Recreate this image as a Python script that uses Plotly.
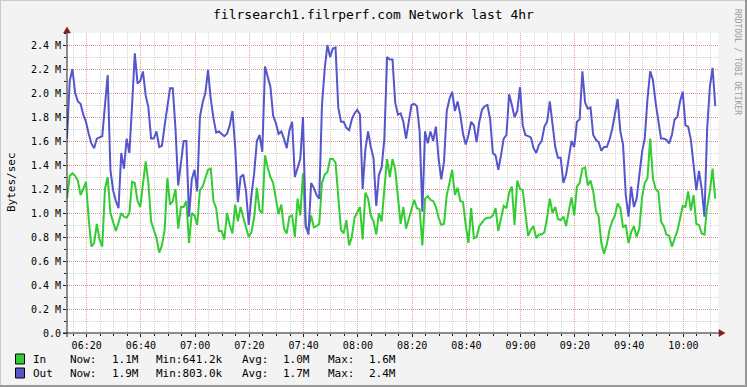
import pandas as pd
import plotly.graph_objects as go

# ---------------- data ----------------
title_text = "filrsearch1.filrperf.com Network last 4hr"
start_time = "2013-05-14 06:12:45"   # one sample per minute, 4 hours
step_seconds = 60

# Out (Bytes/sec, millions)
out_mbps = [
    1.62, 2.10, 2.20, 2.00, 1.93, 1.91, 1.82, 1.76, 1.66, 1.58, 1.54, 1.62, 1.63, 1.64, 1.90, 2.15,
    1.36, 1.19, 1.10, 1.04, 1.50, 1.37, 1.62, 1.50, 1.90, 2.33, 2.08, 2.10, 2.18, 1.98, 1.88, 1.62,
    1.62, 1.68, 1.55, 1.56, 1.73, 1.90, 2.04, 2.04, 1.70, 1.23, 1.40, 1.60, 1.60, 0.97, 1.28, 1.36,
    1.18, 1.80, 1.92, 2.00, 2.19, 1.95, 1.79, 1.67, 1.68, 1.66, 1.64, 1.66, 1.73, 1.85, 1.55, 1.09,
    1.30, 1.32, 1.18, 0.90, 1.15, 1.33, 1.60, 1.65, 1.51, 2.22, 2.14, 2.05, 1.81, 1.75, 1.66, 1.68,
    1.62, 1.54, 1.69, 1.76, 1.30, 1.37, 1.45, 1.80, 0.90, 0.82, 1.25, 1.21, 1.15, 1.12, 1.90, 2.20,
    2.40, 2.30, 2.37, 2.38, 1.88, 1.76, 1.76, 1.71, 1.69, 1.78, 1.83, 1.86, 1.82, 1.20, 1.53, 1.68,
    1.55, 1.46, 1.06, 1.32, 1.38, 1.62, 2.30, 2.28, 2.28, 1.92, 1.82, 1.83, 1.76, 1.62, 1.75, 1.90,
    1.91, 1.89, 1.68, 1.01, 1.68, 1.58, 1.68, 1.60, 1.72, 1.45, 1.28, 1.43, 1.85, 1.95, 2.01, 1.85,
    1.93, 1.82, 1.66, 1.57, 1.65, 1.76, 1.73, 1.59, 1.76, 1.86, 1.89, 1.90, 1.78, 1.50, 1.48, 1.36,
    1.48, 1.62, 1.65, 1.99, 1.90, 1.80, 1.85, 2.05, 1.73, 1.65, 1.64, 1.63, 1.54, 1.50, 1.57, 1.60,
    1.72, 1.76, 1.93, 1.75, 1.55, 1.46, 1.46, 1.25, 1.32, 1.46, 1.60, 1.55, 1.76, 1.78, 2.18, 1.92,
    1.87, 1.88, 1.65, 1.61, 1.59, 1.52, 1.55, 1.55, 1.61, 1.70, 1.82, 1.95, 1.68, 1.57, 1.15, 0.97,
    1.22, 1.05, 1.12, 1.30, 1.51, 1.62, 1.95, 2.18, 2.11, 1.92, 1.78, 1.62, 1.62, 1.61, 1.58, 1.65,
    1.78, 1.80, 1.93, 2.01, 1.73, 1.72, 1.61, 1.42, 1.19, 1.35, 1.20, 0.97, 1.70, 2.05, 2.21, 1.89,
]

# In (Bytes/sec, millions)
in_mbps = [
    1.12, 1.31, 1.33, 1.31, 1.27, 1.15, 1.20, 1.26, 0.95, 0.72, 0.75, 0.91, 0.78, 0.72, 1.20, 1.30,
    1.00, 0.93, 0.85, 0.92, 1.00, 0.97, 0.96, 1.00, 1.26, 1.25, 1.10, 1.05, 1.25, 1.43, 1.25, 0.93,
    0.86, 0.79, 0.67, 0.73, 0.86, 1.29, 1.07, 1.10, 1.20, 0.87, 1.05, 1.05, 1.10, 0.75, 1.00, 0.98,
    0.90, 1.19, 1.22, 1.30, 1.36, 1.37, 1.10, 1.04, 0.85, 0.85, 0.78, 1.00, 0.90, 0.83, 1.07, 0.93,
    1.05, 0.96, 0.88, 0.80, 0.84, 0.96, 1.21, 1.02, 1.00, 1.48, 1.38, 1.30, 1.25, 1.10, 0.99, 1.07,
    0.87, 0.83, 0.97, 0.98, 0.80, 1.12, 0.98, 1.33, 0.88, 0.85, 0.98, 0.88, 0.89, 0.91, 1.25, 1.32,
    1.34, 1.45, 1.45, 1.42, 1.15, 0.86, 0.83, 0.94, 0.73, 0.80, 0.96, 1.00, 1.05, 0.78, 1.17, 1.12,
    0.98, 0.93, 0.82, 1.00, 0.93, 1.20, 1.45, 1.30, 1.45, 1.36, 1.10, 0.91, 1.05, 0.87, 0.95, 1.02,
    1.11, 1.04, 1.03, 0.73, 1.12, 1.14, 1.11, 1.10, 1.05, 0.96, 0.90, 0.91, 1.15, 1.25, 1.36, 1.15,
    1.21, 1.10, 1.09, 0.90, 0.75, 1.04, 0.79, 0.80, 0.89, 0.92, 0.95, 0.96, 0.96, 0.98, 1.04, 0.85,
    0.97, 1.06, 1.04, 1.17, 1.22, 0.90, 1.27, 1.20, 1.19, 1.02, 0.81, 0.86, 0.89, 0.79, 0.82, 0.82,
    0.84, 0.96, 1.12, 1.00, 1.05, 0.95, 0.94, 0.97, 0.89, 1.02, 1.13, 0.98, 1.22, 1.25, 1.37, 1.38,
    1.23, 1.27, 1.18, 1.02, 0.97, 0.75, 0.66, 0.74, 0.86, 0.93, 0.98, 1.08, 1.04, 0.88, 0.90, 0.75,
    0.84, 0.89, 0.80, 0.87, 1.13, 1.25, 1.29, 1.62, 1.29, 1.20, 1.18, 0.93, 0.89, 0.82, 0.81, 0.72,
    0.78, 0.85, 0.95, 1.06, 1.05, 1.18, 1.02, 1.15, 0.91, 0.90, 0.83, 0.82, 1.05, 1.18, 1.37, 1.12,
]

y_tick_vals = [0.0, 0.2, 0.4, 0.6, 0.8, 1.0, 1.2, 1.4, 1.6, 1.8, 2.0, 2.2, 2.4]
y_tick_text = ["0.0", "0.2 M", "0.4 M", "0.6 M", "0.8 M", "1.0 M", "1.2 M",
               "1.4 M", "1.6 M", "1.8 M", "2.0 M", "2.2 M", "2.4 M"]
y_max = 2.5

series_names = ["In", "Out"]
legend_now = ["1.1M", "1.9M"]
legend_min = ["641.2k", "803.0k"]
legend_avg = ["1.0M", "1.7M"]
legend_max = ["1.6M", "2.4M"]

# ---------------- styling ----------------
W, H = 747, 387
L, R, T, B = 67, 718, 33, 333
FONT = "DejaVu Sans Mono"
GREEN = "#33CC33"
BLUE = "#5555CC"
BACK = "#F3F3F3"
GRID = "rgba(150,150,150,0.40)"
MGRID = "rgba(225,90,90,0.55)"
ARROW = "#7F1F1F"


def px(x):
    return (x - L) / (R - L)


def py(y):
    return (B - y) / (B - T)


def series_times(n):
    return pd.date_range(start=start_time, periods=n, freq=f"{step_seconds}s")


t0 = pd.Timestamp(start_time)
x_range = [t0, t0 + pd.Timedelta(hours=4)]

fig = go.Figure()
fig.add_trace(go.Scatter(x=series_times(len(in_mbps)), y=[v * 1e6 for v in in_mbps],
                         mode="lines", line=dict(color=GREEN, width=2), name="In"))
fig.add_trace(go.Scatter(x=series_times(len(out_mbps)), y=[v * 1e6 for v in out_mbps],
                         mode="lines", line=dict(color=BLUE, width=2), name="Out"))

fig.update_layout(
    width=W, height=H,
    margin=dict(l=L, r=W - R, t=T, b=H - B, pad=0),
    paper_bgcolor=BACK, plot_bgcolor="white",
    showlegend=False,
    font=dict(family=FONT, size=10, color="black"),
)

fig.update_xaxes(
    type="date", range=x_range,
    tickformat="%H:%M", tick0="2013-05-14 06:20:00", dtick=20 * 60 * 1000,
    showgrid=True, gridcolor=MGRID, griddash="1px,1px", gridwidth=1,
    ticks="outside", ticklen=3, tickcolor="#1F1F1F",
    tickfont=dict(family=FONT, size=10, color="black"),
    showline=False, zeroline=False,
    minor=dict(tick0="2013-05-14 06:20:00", dtick=5 * 60 * 1000, showgrid=True,
               gridcolor=GRID, griddash="1px,1px", ticks="outside", ticklen=2,
               tickcolor="#1F1F1F"),
)

fig.update_yaxes(
    range=[0, y_max * 1e6],
    tickmode="array", tickvals=[v * 1e6 for v in y_tick_vals], ticktext=y_tick_text,
    showgrid=True, gridcolor=MGRID, griddash="1px,1px", gridwidth=1,
    ticks="outside", ticklen=3, tickcolor="#1F1F1F",
    tickfont=dict(family=FONT, size=10, color="black"),
    showline=False, zeroline=False,
    minor=dict(tickmode="linear", tick0=0, dtick=1e5, showgrid=True,
               gridcolor=GRID, griddash="1px,1px", ticks="outside", ticklen=2,
               tickcolor="#1F1F1F"),
)

shapes = []
# frame around the image
shapes.append(dict(type="line", xref="paper", yref="paper", x0=px(0), x1=px(W), y0=py(0.5), y1=py(0.5),
                   line=dict(color="#CBCBCB", width=1)))
shapes.append(dict(type="line", xref="paper", yref="paper", x0=px(0.5), x1=px(0.5), y0=py(0), y1=py(H),
                   line=dict(color="#CBCBCB", width=1)))
shapes.append(dict(type="line", xref="paper", yref="paper", x0=px(0), x1=px(W), y0=py(H - 1), y1=py(H - 1),
                   line=dict(color="#999999", width=2)))
shapes.append(dict(type="line", xref="paper", yref="paper", x0=px(W - 1), x1=px(W - 1), y0=py(0), y1=py(H),
                   line=dict(color="#999999", width=2)))
# axes
shapes.append(dict(type="line", xref="paper", yref="paper", x0=px(63), x1=px(720), y0=0, y1=0,
                   line=dict(color="#1F1F1F", width=1), layer="above"))
shapes.append(dict(type="line", xref="paper", yref="paper", x0=0, x1=0, y0=py(337), y1=py(30),
                   line=dict(color="#1F1F1F", width=1), layer="above"))
# arrows
shapes.append(dict(type="path", xref="paper", yref="paper",
                   path=f"M {px(719)} {py(329.5)} L {px(725)} {py(333)} L {px(719)} {py(336.5)} Z",
                   fillcolor=ARROW, line=dict(color=ARROW, width=0.5), layer="above"))
shapes.append(dict(type="path", xref="paper", yref="paper",
                   path=f"M {px(63.5)} {py(33)} L {px(67)} {py(27)} L {px(70.5)} {py(33)} Z",
                   fillcolor=ARROW, line=dict(color=ARROW, width=0.5), layer="above"))

annotations = []
# title
annotations.append(dict(text=title_text, x=px(373.5), y=py(14), xref="paper", yref="paper",
                        showarrow=False, xanchor="center", yanchor="middle",
                        font=dict(family=FONT, size=13, color="black")))
# y unit label
annotations.append(dict(text="Bytes/sec", x=px(11), y=py(182), xref="paper", yref="paper",
                        showarrow=False, textangle=-90, xanchor="center", yanchor="middle",
                        font=dict(family=FONT, size=11, color="black")))
# watermark
annotations.append(dict(text="RRDTOOL / TOBI OETIKER", x=px(738), y=py(62), xref="paper", yref="paper",
                        showarrow=False, textangle=90, xanchor="center", yanchor="middle",
                        font=dict(family=FONT, size=8, color="#9A9A9A")))

# legend rows
row_y = [359, 373]
colors = [GREEN, BLUE]
for i, name in enumerate(series_names):
    yc = row_y[i]
    shapes.append(dict(type="rect", xref="paper", yref="paper",
                       x0=px(15.5), x1=px(24.5), y0=py(yc - 5), y1=py(yc + 5),
                       fillcolor=colors[i], line=dict(color="black", width=1)))
    pieces = [
        (30.5, name), (67.5, "Now:"), (110, legend_now[i]),
        (154, "Min:" + legend_min[i]), (240, "Avg:"), (281, legend_avg[i]),
        (326, "Max:"), (367, legend_max[i]),
    ]
    for xpos, txt in pieces:
        annotations.append(dict(text=txt, x=px(xpos), y=py(yc), xref="paper", yref="paper",
                                showarrow=False, xanchor="left", yanchor="middle",
                                font=dict(family=FONT, size=11, color="black")))

fig.update_layout(shapes=shapes, annotations=annotations)

fig.write_html("out.html")
